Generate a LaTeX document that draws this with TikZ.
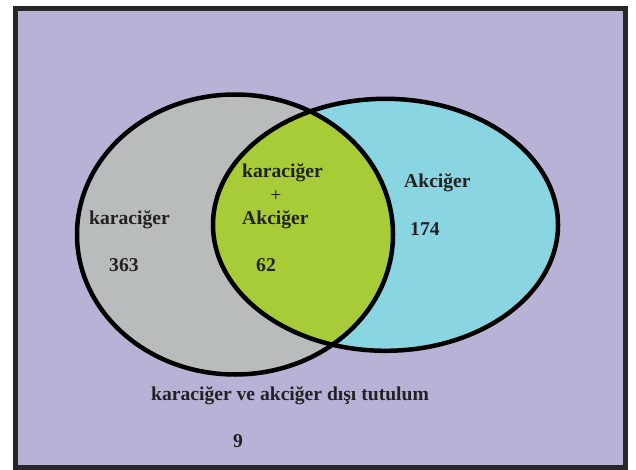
\documentclass[tikz,border=0pt]{standalone}
\usepackage{fontspec}
\setmainfont{Liberation Serif}
\definecolor{bgpurple}{HTML}{B8B2D6}
\definecolor{livergray}{HTML}{B9BCBC}
\definecolor{lungcyan}{HTML}{8AD5E2}
\definecolor{bothgreen}{HTML}{A8CC38}
\definecolor{txt}{HTML}{222222}
\begin{document}
\begin{tikzpicture}[x=1pt,y=-1pt,
  lbl/.style={anchor=base west,inner sep=0pt,text=txt,font=\fontsize{19.6}{22}\selectfont\bfseries},
  outline/.style={draw=black,line width=4.5pt}]
\useasboundingbox (0,0) rectangle (636,470);
\fill[white] (0,0) rectangle (636,470);
\draw[fill=bgpurple,draw=black!85,line width=5pt] (15.5,9) rectangle (625,467);
% ellipses
\fill[livergray] (235,234.5) ellipse [x radius=158, y radius=140];
\fill[lungcyan] (385.5,224.8) ellipse [x radius=172.5, y radius=126];
\begin{scope}
  \clip (235,234.5) ellipse [x radius=158, y radius=140];
  \fill[bothgreen] (385.5,224.8) ellipse [x radius=172.5, y radius=126];
\end{scope}
\draw[outline] (235,234.5) ellipse [x radius=158, y radius=140];
\draw[outline] (385.5,224.8) ellipse [x radius=172.5, y radius=126];
% labels
\node[lbl] (liver) at (89,224) {karaciğer};
\node[lbl] (livern) at (109,271) {363};
\node[lbl] (both1) at (242,178) {karaciğer};
\node[text=txt,inner sep=0pt,font=\fontsize{19.6}{22}\selectfont] (plus) at (276,196) {+};
\node[lbl] (both2) at (242,224) {Akciğer};
\node[lbl] (bothn) at (256,271) {62};
\node[lbl] (lung) at (404,188) {Akciğer};
\node[lbl] (lungn) at (410,235) {174};
\node[lbl] (other) at (151,400) {karaciğer ve akciğer dışı tutulum};
\node[lbl] (othern) at (233,447) {9};
\end{tikzpicture}
\end{document}
